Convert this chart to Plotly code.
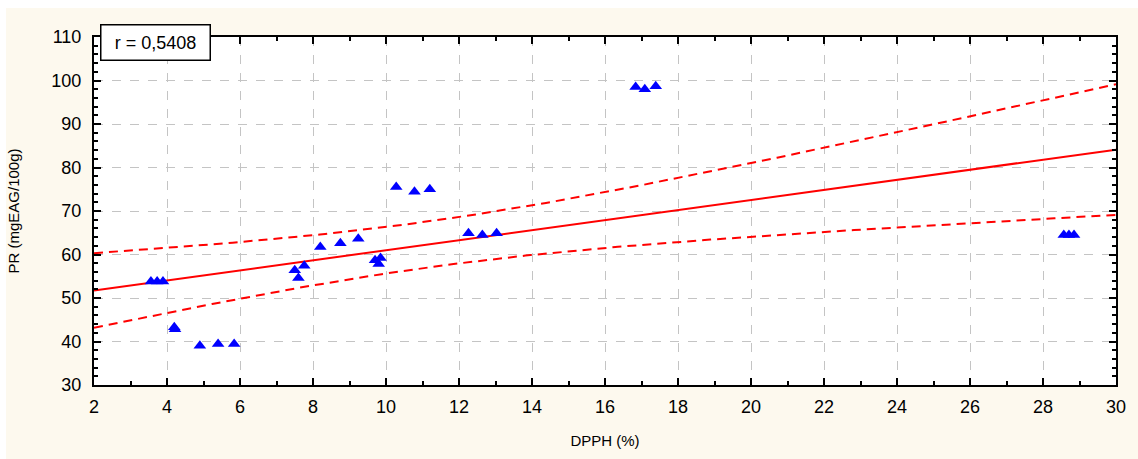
import numpy as np
import plotly.graph_objects as go

# DPPH scavenging (%) and phenolic content PR (mg EAG/100 g) per sample
dpph = [3.56, 3.73, 3.89, 4.20, 4.22, 4.90, 5.40, 5.84, 7.50, 7.60, 7.76,
        8.20, 8.75, 9.24, 9.70, 9.85, 9.80, 10.28, 10.78, 11.20, 12.26,
        12.64, 13.03, 16.84, 17.09, 17.39, 28.57, 28.71, 28.85]
pr = [53.8, 53.8, 53.8, 43.3, 42.8, 39.0, 39.4, 39.4, 56.4, 54.6, 57.4,
      61.7, 62.6, 63.6, 58.7, 59.2, 57.8, 75.5, 74.4, 75.0, 64.9,
      64.5, 64.9, 98.5, 98.0, 98.7, 64.5, 64.5, 64.5]
r_label = "r = 0,5408"
x_range = [2, 30]
y_range = [30, 110]

x = np.array(dpph)
y = np.array(pr)
n = len(x)

# least-squares line with 95% confidence band for the mean
slope, intercept = np.polyfit(x, y, 1)
resid = y - (slope * x + intercept)
s = np.sqrt(np.sum(resid ** 2) / (n - 2))
sxx = np.sum((x - x.mean()) ** 2)
t_crit = 2.052  # Student t, 0.975 quantile, df = 27
xg = np.linspace(x_range[0], x_range[1], 200)
yg = slope * xg + intercept
half = t_crit * s * np.sqrt(1.0 / n + (xg - x.mean()) ** 2 / sxx)

W, H = 1138, 459
ML, MR, MT, MB = 94, 22, 37, 74
PW, PH = W - ML - MR, H - MT - MB
FONT = "Liberation Sans, Arial, sans-serif"

fig = go.Figure()
fig.add_trace(go.Scatter(x=xg, y=yg + half, mode="lines",
                         line=dict(color="#ff0000", width=2, dash="9px,6px"),
                         hoverinfo="skip"))
fig.add_trace(go.Scatter(x=xg, y=yg - half, mode="lines",
                         line=dict(color="#ff0000", width=2, dash="9px,6px"),
                         hoverinfo="skip"))
fig.add_trace(go.Scatter(x=xg, y=yg, mode="lines",
                         line=dict(color="#ff0000", width=2)))
fig.add_trace(go.Scatter(x=dpph, y=pr, mode="markers",
                         marker=dict(symbol="triangle-up", size=11,
                                     color="#0000ff",
                                     line=dict(width=0))))

axis_common = dict(
    showline=True, linecolor="black", linewidth=2, mirror="ticks",
    ticks="inside", ticklen=7, tickwidth=2, tickcolor="black",
    showgrid=True, gridcolor="#c4c4c4", griddash="dash", gridwidth=1,
    zeroline=False,
    tickfont=dict(family=FONT, size=18, color="black"),
)

fig.update_xaxes(range=x_range, dtick=2, tick0=2, ticklabelstandoff=4,
                 minor=dict(dtick=1, ticks="inside", ticklen=4,
                            tickcolor="black", tickwidth=1.5,
                            showgrid=False),
                 title=dict(text="DPPH (%)", standoff=20,
                            font=dict(family=FONT, size=15, color="black")),
                 **axis_common)
fig.update_yaxes(range=y_range, dtick=10, tick0=30, ticklabelstandoff=7,
                 minor=dict(dtick=2, ticks="inside", ticklen=4,
                            tickcolor="black", tickwidth=1.5,
                            showgrid=False),
                 title=dict(text="PR (mgEAG/100g)", standoff=28,
                            font=dict(family=FONT, size=15, color="black")),
                 **axis_common)

# white strips along the top and left edge of the cream page
fig.add_shape(type="rect", xref="paper", yref="paper", layer="below",
              x0=-ML / PW, x1=(W - ML) / PW,
              y0=(PH + MT - 8) / PH, y1=(PH + MT) / PH,
              fillcolor="white", line_width=0)
fig.add_shape(type="rect", xref="paper", yref="paper", layer="below",
              x0=-ML / PW, x1=(6 - ML) / PW,
              y0=-MB / PH, y1=(PH + MT) / PH,
              fillcolor="white", line_width=0)

fig.add_annotation(text=r_label, xref="paper", yref="paper",
                   x=(155 - ML) / PW, y=(MT + PH - 42.5) / PH,
                   xanchor="center", yanchor="middle", showarrow=False,
                   width=106, height=32,
                   bgcolor="white", bordercolor="black", borderwidth=1.5,
                   font=dict(family=FONT, size=18, color="black"))

fig.update_layout(
    width=W, height=H,
    margin=dict(l=ML, r=MR, t=MT, b=MB, autoexpand=False),
    paper_bgcolor="#fdf9ee", plot_bgcolor="white",
    showlegend=False,
)

fig.write_html("out.html")
